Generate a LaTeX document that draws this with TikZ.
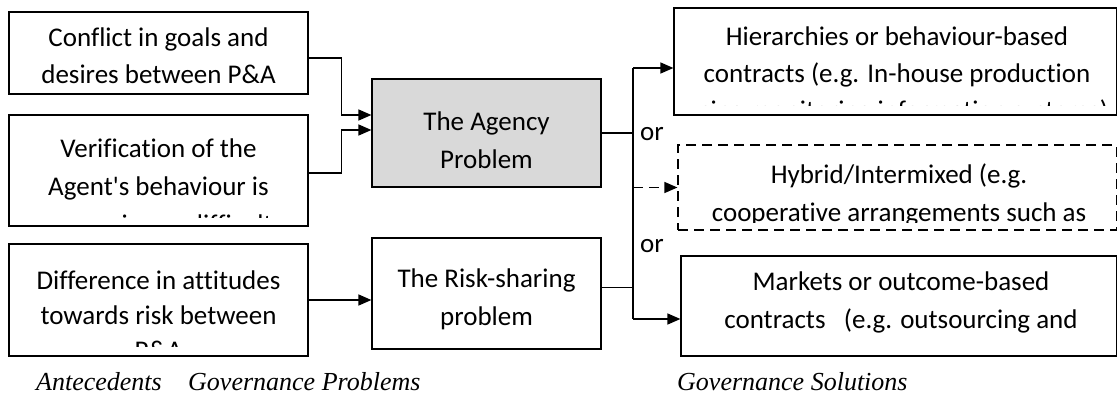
\documentclass[tikz,border=0pt]{standalone}
\usepackage{fontspec}
\setmainfont{Carlito}[Ligatures={NoCommon}]
\newfontfamily\tnr{Liberation Serif}
\usetikzlibrary{arrows.meta}
\definecolor{agfill}{HTML}{D9D9D9}
\tikzset{
 box/.style={draw=black, line width=1.2pt, inner sep=0pt},
 txt/.style={align=center, inner sep=0pt, anchor=base, font=\fontsize{27}{37}\selectfont},
 arr/.style={line width=1.4pt, -{Triangle[length=13pt,width=11pt]}},
 conn/.style={line width=1.4pt},
 lbl/.style={font=\tnr\itshape\fontsize{26}{30}\selectfont, anchor=base west, inner sep=0pt},
 dsh/.style={dash pattern=on 10pt off 6pt}
}
\begin{document}
\begin{tikzpicture}[x=1pt,y=-1pt]
\useasboundingbox (0,0) rectangle (1118,396);
% boxes
\node[box, minimum width=299pt, minimum height=82pt] (a1) at (158.5,53) {};
\node[box, minimum width=299pt, minimum height=111pt] (a2) at (158.5,170.5) {};
\node[box, minimum width=299pt, minimum height=112pt] (a3) at (158.5,300) {};
\node[box, fill=agfill, minimum width=229pt, minimum height=108pt] (ag) at (486.5,133) {};
\node[box, minimum width=229pt, minimum height=111pt] (rk) at (486.5,293.5) {};
\node[box, minimum width=442.5pt, minimum height=107pt] (s1) at (895.25,61.5) {};
\node[box, dsh, minimum width=438.5pt, minimum height=85pt] (s2) at (897.25,187.5) {};
\node[box, minimum width=435.5pt, minimum height=100pt] (s3) at (898.75,306) {};
% texts (anchored at the baseline of their last line)
\begin{scope}\clip (9,12) rectangle (308,85);
\node[txt, font=\fontsize{27}{36}\selectfont] (t1) at (158.5,83) {Conflict in goals and\\desires between P\&A};
\end{scope}
\begin{scope}\clip (9,115) rectangle (308,217);
\node[txt, font=\fontsize{27}{38}\selectfont] (t2) at (158.5,233) {Verification of the\\Agent\textquotesingle s behaviour is\\expensive or difficult};
\end{scope}
\begin{scope}\clip (9,244) rectangle (308,346);
\node[txt, font=\fontsize{27}{35}\selectfont] (t3) at (158.5,359) {Difference in attitudes\\towards risk between\\P\&A};
\end{scope}
\node[txt, font=\fontsize{27}{38}\selectfont] (tag) at (486.5,168) {The Agency\\Problem};
\node[txt, font=\fontsize{27}{38}\selectfont] (trk) at (486.5,325) {The Risk-sharing\\problem};
\begin{scope}\clip (674,8) rectangle (1116.5,105);
\node[txt] (ts1) at (897,119) {Hierarchies or behaviour-based\\contracts (e.g. In-house production\\using monitoring information systems)};
\end{scope}
\begin{scope}\clip (678,145) rectangle (1116.5,222);
\node[txt, font=\fontsize{27}{38}\selectfont] (ts2) at (899,221) {Hybrid/Intermixed (e.g.\\cooperative arrangements such as};
\end{scope}
\node[txt, font=\fontsize{27}{38}\selectfont] (ts3) at (901,328) {Markets or outcome-based\\contracts\ \ \ (e.g. outsourcing and};
% left connectors
\draw[arr] ([yshift=-5pt]a1.east) -- ++(33,0) |- ([yshift=18pt]ag.west);
\draw[arr] ([yshift=-2.5pt]a2.east) -- ++(33,0) |- ([yshift=3pt]ag.west);
\draw[arr] (a3.east) -- (rk.west |- a3.east);
% right connectors
\coordinate (vt) at (633,68);
\coordinate (vb) at (633,319);
\draw[conn] (ag.east) -- (vt |- ag.east);
\draw[conn] ([yshift=6pt]rk.east) -- ++(32,0);
\draw[conn] (vt) -- (vb);
\draw[arr] (vt) -- (s1.west |- vt);
\draw[arr, dsh] (vt |- s2.west) -- (s2.west);
\draw[arr] (vb) -- (s3.west |- vb);
\node[txt, anchor=base west] (or1) at (640,140) {or};
\node[txt, anchor=base west] (or2) at (640,252) {or};
% labels
\node[lbl] (l1) at (36,390) {Antecedents};
\node[lbl] (l2) at (188,390) {Governance Problems};
\node[lbl] (l3) at (677,390) {Governance Solutions};
\end{tikzpicture}
\end{document}
